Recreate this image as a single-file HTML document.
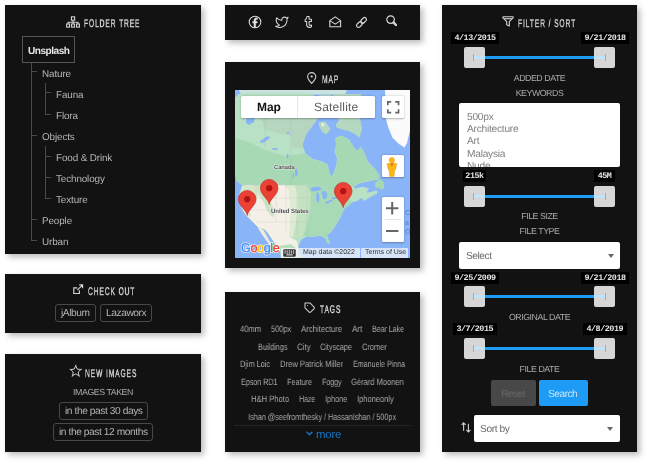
<!DOCTYPE html>
<html>
<head>
<meta charset="utf-8">
<style>
*{box-sizing:border-box;margin:0;padding:0}
html,body{width:649px;height:465px;overflow:hidden;background:#fff}
body{position:relative;text-rendering:geometricPrecision;font-family:"Liberation Sans",sans-serif;color:#bbb;font-size:11px}
.p{position:absolute;background:#121212;box-shadow:3px 3px 6px rgba(0,0,0,.27)}
.a{position:absolute;white-space:nowrap}
.f,.t,.btn>span,.tg,.lb,.tip,.g,.kw{will-change:transform}
.btn>span{display:inline-block}
.t{position:absolute;white-space:nowrap;color:#d6d6d6;-webkit-text-stroke:.4px #d6d6d6;font-size:11.1px;letter-spacing:1.5px;transform:scaleX(.6);transform-origin:0 50%;line-height:12px}
.f{position:absolute;white-space:nowrap;color:#b6b6b6;font-size:9.9px;line-height:12px;letter-spacing:-.12px}
.ln{position:absolute;background:#4a4a4a}
.btn{position:absolute;border:1px solid #484848;border-radius:3px;color:#b4b4b4;font-size:10.2px;line-height:12px;text-align:center;white-space:nowrap;letter-spacing:-.42px;padding-top:2.900px;height:18px}
.tg{position:absolute;white-space:nowrap;color:#a8a8a8;font-size:9.2px;line-height:10px;letter-spacing:-.1px;transform-origin:0 50%}
.lb{position:absolute;white-space:nowrap;color:#aaa;font-size:8.8px;line-height:10px;text-align:center;letter-spacing:-.45px}
.tip{position:absolute;background:#000;color:#e6e6e6;font-family:"Liberation Mono",monospace;font-weight:bold;font-size:8.4px;letter-spacing:-.45px;line-height:12px;height:12px;text-align:center;white-space:nowrap}
.hd{position:absolute;width:21px;height:21px;background:#d6d6d6;border-radius:2px}
.tr{position:absolute;height:3px;background:#1e9cf5}
.gl{position:absolute;height:3px;background:#bfe3fb}
.tk{position:absolute;width:1px;height:7px;background:#a9a9a9}
.sel{position:absolute;background:#fff;border-radius:2px}
.kw{position:absolute;white-space:nowrap;color:#808080;font-size:10.2px;line-height:12px;letter-spacing:-.25px}
svg{position:absolute;overflow:visible}
</style>
</head>
<body>

<!-- PANELS -->
<div class="p" style="left:5px;top:5px;width:196px;height:248.700px"></div>
<div class="p" style="left:5px;top:274px;width:196px;height:59px"></div>
<div class="p" style="left:5px;top:354px;width:196px;height:98px"></div>
<div class="p" style="left:225px;top:5px;width:195px;height:34.500px"></div>
<div class="p" style="left:225px;top:62px;width:195px;height:206px"></div>
<div class="p" style="left:225px;top:292px;width:195px;height:160px"></div>
<div class="p" style="left:442px;top:5px;width:195px;height:447px"></div>

<!-- FOLDER TREE -->
<svg style="left:66.200px;top:15.600px" width="15" height="13" viewBox="0 0 15 13" fill="none" stroke="#d4d4d4" stroke-width="1.100">
  <rect x="5.450" y=".850" width="3.200" height="3.300"/><path d="M7.050 4.150V6.300M2.100 8V6.300H12V8M7.050 6.300V8"/>
  <rect x=".650" y="8" width="2.900" height="3.100"/><rect x="5.600" y="8" width="2.900" height="3.100"/><rect x="10.550" y="8" width="2.900" height="3.100"/>
</svg>
<div class="t" style="left:83.5px;top:18px">FOLDER TREE</div>
<div class="a" style="left:22px;top:36px;width:53px;height:27px;border:1px solid #555"></div>
<div class="f" style="left:28.200px;top:46px;color:#e8e8e8;font-weight:bold;font-size:10.100px;letter-spacing:-.5px">Unsplash</div>
<div class="ln" style="left:31px;top:63px;width:1px;height:178px"></div>
<div class="ln" style="left:31px;top:71px;width:6px;height:1px"></div>
<div class="f" style="left:42px;top:68.7px">Nature</div>
<div class="ln" style="left:45px;top:83px;width:1px;height:31px"></div>
<div class="ln" style="left:45px;top:92px;width:6px;height:1px"></div>
<div class="f" style="left:56px;top:89.7px">Fauna</div>
<div class="ln" style="left:45px;top:114px;width:6px;height:1px"></div>
<div class="f" style="left:56px;top:110.7px">Flora</div>
<div class="ln" style="left:31px;top:135px;width:6px;height:1px"></div>
<div class="f" style="left:42px;top:131.7px">Objects</div>
<div class="ln" style="left:45px;top:146px;width:1px;height:52px"></div>
<div class="ln" style="left:45px;top:156px;width:6px;height:1px"></div>
<div class="f" style="left:56px;top:152.7px">Food &amp; Drink</div>
<div class="ln" style="left:45px;top:177px;width:6px;height:1px"></div>
<div class="f" style="left:56px;top:173.7px">Technology</div>
<div class="ln" style="left:45px;top:198px;width:6px;height:1px"></div>
<div class="f" style="left:56px;top:194.7px">Texture</div>
<div class="ln" style="left:31px;top:219px;width:6px;height:1px"></div>
<div class="f" style="left:42px;top:215.7px">People</div>
<div class="ln" style="left:31px;top:240px;width:6px;height:1px"></div>
<div class="f" style="left:42px;top:236.7px">Urban</div>

<!-- CHECK OUT -->
<svg style="left:73px;top:283.900px" width="11" height="11" viewBox="0 0 11 11" fill="none" stroke="#d4d4d4" stroke-width="1.150">
  <path d="M4.200 3.900H.8V9.500H6.400V6.300M6.200.8H9.600V4.200M9.600.8L4.300 6.100"/>
</svg>
<div class="t" style="left:87.5px;top:286px">CHECK OUT</div>
<div class="btn" style="left:55px;top:304px;width:41px"><span>jAlbum</span></div>
<div class="btn" style="left:100px;top:304px;width:52px"><span>Lazaworx</span></div>

<!-- NEW IMAGES -->
<svg style="left:69.700px;top:365.400px" width="12" height="12" viewBox="0 0 13 13" fill="none" stroke="#d4d4d4" stroke-width="1.050" stroke-linejoin="round">
  <path d="M6.2 0.8L7.9 4.5L11.8 4.9L8.9 7.6L9.7 11.6L6.2 9.6L2.7 11.6L3.5 7.6L0.6 4.9L4.5 4.5z"/><path d="M6.2 0.8L6.62 -0.11M6.2 0.8L5.78 -0.11M11.8 4.9L12.79 5.00M11.8 4.9L12.53 4.22M9.7 11.6L9.90 12.58M9.7 11.6L10.57 12.10M2.7 11.6L1.83 12.10M2.7 11.6L2.50 12.58M0.6 4.9L-0.13 4.22M0.6 4.9L-0.39 5.00" stroke-width=".8"/>
</svg>
<div class="t" style="left:85px;top:367.5px">NEW IMAGES</div>
<div class="lb" style="left:5px;width:196px;top:387px">IMAGES TAKEN</div>
<div class="btn" style="left:59px;top:402px;width:89px"><span>in the past 30 days</span></div>
<div class="btn" style="left:53px;top:423px;width:100px"><span>in the past 12 months</span></div>

<!--SOCIAL-->
<svg style="left:248px;top:15px" width="14" height="14" viewBox="0 0 14 14" fill="none" stroke="#d8d8d8" stroke-width="1.1">
  <circle cx="7" cy="7" r="5.8"/>
  <path fill="#e8e8e8" stroke="#e8e8e8" stroke-width=".35" d="M7.7 12.6V8.1h1.45l.25-1.7H7.7V5.3c0-.5.2-.85.9-.85h.85V2.95c-.2-.03-.7-.08-1.25-.08-1.35 0-2.25.8-2.25 2.25v1.3H4.6v1.7h1.35v4.5z"/>
</svg>
<svg style="left:274.500px;top:16.300px" width="13.700" height="12" viewBox="0 0 24 21" fill="none" stroke="#d8d8d8" stroke-width="1.8" stroke-linejoin="round">
  <path d="M23 2a10.9 10.9 0 0 1-3.14 1.53 4.48 4.48 0 0 0-7.86 3v1A10.66 10.66 0 0 1 3 3s-4 9 5 13a11.64 11.64 0 0 1-7 2c9 5 20 0 20-11.5a4.5 4.5 0 0 0-.08-.83A7.72 7.72 0 0 0 23 2z"/>
</svg>
<svg style="left:304.300px;top:16.200px" width="8.500" height="11.300" viewBox="0 0 9 12" fill="none" stroke="#d8d8d8" stroke-width="1.1" stroke-linejoin="round">
  <path d="M3.1.6h2.3v2.9h2.5v2.3H5.4v2.9c0 .9.45 1.25 1.15 1.25.5 0 .95-.15 1.4-.4v2.05c-.55.3-1.3.5-2.15.5C3.9 12.1 2.8 11 2.8 9.1V5.8H1.2V4c1.2-.4 1.8-1.5 1.9-3.4z"/>
</svg>
<svg style="left:329px;top:16px" width="13" height="12" viewBox="0 0 13 12" fill="none" stroke="#d8d8d8" stroke-width="1.1" stroke-linejoin="round">
  <path d="M.8 4.6L6.2.9l5.4 3.7v6.1H.8z"/><path d="M.8 4.6l5.4 3.5 5.4-3.5"/>
</svg>
<svg style="left:355.800px;top:16.800px" width="11" height="11" viewBox="0 0 12 12" fill="none" stroke="#d8d8d8" stroke-width="1.300">
  <g transform="rotate(-45 6 6)"><rect x="-.8" y="3.9" width="7.2" height="4.2" rx="2.1"/><rect x="5.6" y="3.9" width="7.2" height="4.2" rx="2.1"/></g>
</svg>
<svg style="left:386px;top:15.200px" width="12" height="12" viewBox="0 0 12 12" fill="none" stroke="#d8d8d8" stroke-width="1.2">
  <circle cx="4.6" cy="4.6" r="3.8"/><path d="M7.6 7.6L10 10" stroke-width="2.4" stroke-linecap="round"/>
</svg>
<!--MAP-->
<svg style="left:306.800px;top:72.300px" width="9.400" height="12" viewBox="0 0 9.400 12" fill="none" stroke="#d0d0d0" stroke-width="1.100">
  <path d="M4.700.6C2.400.6.6 2.400.6 4.600c0 2.800 4.100 6.700 4.100 6.700s4.100-3.900 4.100-6.700C8.800 2.400 7 .6 4.700.6z"/><circle cx="4.700" cy="4.500" r="1.100" fill="#e4e4e4" stroke="none"/>
</svg>
<div class="t" style="left:322px;top:74px">MAP</div>
<!--MAPBODY-->
<div class="a" style="left:234.500px;top:89.700px;width:175.500px;height:168.300px;background:#8ab4f8;overflow:hidden">
<svg style="left:0;top:0" width="175" height="168" viewBox="0 0 175 168">
  <path d="M4 0H112L110 4.500H6z" fill="#c9e2e0"/>
  <!-- main continent -->
  <path fill="#b9e1c5" stroke="#b9e1c5" stroke-width=".8" stroke-linejoin="round" d="M0 8L3 5L12 3H70L80 6L82 29L78.400 34L70.700 44.400L67.200 54.700L69.800 63.300L77.500 69.300L87 71.900L92.200 74.500L93.900 82.200L96.100 87.400L99 83.100L101.600 75.400L102.500 68.500L99.900 61.600L101.600 54.700L100.800 47.800L106.800 46.100L113.700 49.500L118 56.400L122.300 61.600L125.700 57.300L129.200 63.300L132.600 71.900L139.500 78.800L144.300 85.700L143.500 89L136 90.500L125.700 92.500L118 96.500L120 99L127 97L133.500 98.500L131 103L136 102.500L141.500 100.500L142 103L136 106.500L129 110.500L126.500 107.500L122.500 110.500L117 112L113.500 115.500L109.600 117.800L105.800 125.400L101 134.800L95.400 142.400L91.600 144.300L93 149L94.500 153.700L92 152L90.700 148L85 145.200L78 146.500L72 146L66 149.500L63 156L63.500 163L67 168H48L45.400 161.300L42.500 157.500L37.800 150L32 141.500L29 139L26 138L22.700 136.700L15.100 129.100L11.300 125.400L6.600 117.800L4.700 104.500L7.500 95L2 91L1 85.700L0 84z"/>
  <!-- Nunavut / NWT greyish -->
  <path fill="#b7d6c0" d="M26 28H82L78.400 34L70.700 44.400L67.200 54.700L68.500 59L58 58L56 46L30 40z"/>
  <!-- boreal forest darker -->
  <path fill="#a8d9b5" d="M0 48L14 52L30 60L50 66L69.800 63.300L77.500 69.300L87 71.900L92.200 74.500L93.900 82.200L96.100 87.400L99 83.100L101.600 75.400L110 73L122 72L132.600 71.900L139.500 78.800L144.300 85.700L143.500 89L136 90.500L125.700 92.500L118 96.500L108 100L96 100L84 96L70 94.500H7.500L2 91L1 85.700L0 84z"/>
  <path fill="#a6d8b3" d="M101.600 54.700L100.800 47.800L106.800 46.100L113.700 49.500L118 56.400L122.300 61.600L125.700 57.300L129.200 63.300L132.600 71.900L122 72L110 73L101.600 75.400L102.500 68.500L99.900 61.600z"/>
  <!-- US beige + mexico -->
  <path fill="#f4f0e7" d="M7.500 96L12 95H50L54 100L55 112L56 125L55 138L54 146.500L62 151L63 156L63.500 163L67 168H48L45.400 161.300L42.500 157.500L37.800 150L32 141.500L29 139L26 138L22.700 136.700L15.100 129.100L11.300 125.400L6.600 117.800L5 106z"/>
  <path fill="#efeadb" d="M23 137L26 138L28.400 140L33 148L36.300 154.700L35 155.500L30.200 149L26 143L23.500 139z"/>
  <path fill="#cde4c6" d="M19 95L27 95L31 104L36 112L40 122L38 128L33 122L29 113L24 106z"/>
  <path fill="#d6e8ce" d="M10.500 116L13 118L16.500 126L14.500 127L11.500 122z"/>
  <path fill="#dcebd2" d="M50 95L60 95.200L63 104L63 120L61 134L58 147L54 146.500L55 138L56 125L55 112L54 100z"/>
  <path fill="#c3e2c2" d="M60 95.200L72 95.500L76 104L75 120L72 134L68 146.500L62 148L58 147L61 134L63 120L63 104z"/>
  <path fill="#d5e8cd" d="M8 96L20 95L24 104L20 112L12 116L7 112L5 104z"/>
  <!-- east US green -->
  <path fill="#a9dab6" d="M72 95.500L84 96L96 100L108 100L117 112L113.500 115.500L109.600 117.800L105.800 125.400L101 134.800L95.400 142.400L91.600 144.300L93 149L94.500 153.700L92 152L90.700 148L85 145.200L78 146.500L72 146L68 146.500L72 134L75 120L76 104z"/>
  <!-- mexico south green -->
  <path fill="#b9dfbf" d="M44 156L56 154L63 160L63.500 163L67 168H46z"/>
  <!-- baffin + islands -->
  <path fill="#b5d9c0" d="M98 4H126L128 20L124.900 28.900L127.100 38.400L124.400 47.800L119.700 44L113.700 40.900L106.800 39.200L101.600 37.800L100.800 34.900L104 30L100 22z"/>
  <path fill="#b5d9c0" d="M83.600 32.300L90.400 31.500L95.600 39.200L91.300 44.400L87 41.800L84.400 36.600z"/>
  <path fill="#e6efe9" d="M86 33.500L88.500 33L89.500 36L87.500 37z"/>
  <path fill="#b5d9c0" d="M84 5H96L95 22L90 28L85 27z"/>
  <!-- newfoundland, PEI -->
  <path fill="#a6d8b3" d="M140 92.500L145.500 89L148.500 92L149.500 98L146 99.500L143.500 97.500L140.500 98z"/>
  <!-- greenland -->
  <path fill="#fbfbfb" d="M150 0L150.700 28L153.300 37.500L157.600 47.800L164 54L169.500 57.500L172 53L175 40V0z"/>
  <!-- lakes -->
  <g fill="#8ab4f8">
    <path d="M11 29L20 27L19 32L14 35L11 33z"/>
    <path d="M25 51L33 46L35.500 47.500L29 52.500L25.500 53z"/>
    <ellipse cx="40" cy="59" rx="3" ry="1.100"/><ellipse cx="52.500" cy="66" rx="1" ry="2.500"/><ellipse cx="53" cy="43" rx="1.200" ry="1.200"/>
    <ellipse cx="61.300" cy="82.500" rx="1.400" ry="4"/><ellipse cx="58.300" cy="85.500" rx=".8" ry="2.300"/>
    <path d="M75.500 98.500L80 96.500L85 97L87 99.500L82 101L77 101.500z"/>
    <ellipse cx="82.800" cy="107.500" rx="1.600" ry="5"/>
    <path d="M86.500 102L90 100.500L92.500 104L91.500 108.500L88.500 109.500z"/>
    <path d="M90 112.500L96 109.500L97.500 111L91.500 114z"/><path d="M96.500 107.500L102 106.500L102 108.500L97.500 109.500z"/>
  </g>
  <!-- borders -->
  <path d="M7.500 95H70M30 28V58M56 28V94.500" stroke="#7e8c83" stroke-width=".4" fill="none" opacity=".55" stroke-dasharray="1 .6"/>
  <g stroke="#b5b0a2" stroke-width=".4" fill="none" opacity=".75" stroke-dasharray="1.200 .6">
    <path d="M21 95V110M31 95V120M41 95V132M51 95V143M62 100V146M72 96V146M12 108H76M14 120H75M22 132H72"/>
  </g>
</svg>
</div>
<!--MAPUI-->
<div class="g a" style="left:270.500px;top:208.200px;font-size:6.100px;line-height:8px;font-weight:bold;color:#4e4e4e;text-shadow:0 0 1px #fff,0 0 1px #fff,0 0 2px #fff;letter-spacing:-.1px">United States</div>
<div class="g a" style="left:273.500px;top:164px;font-size:5.900px;line-height:8px;font-weight:bold;color:#4e4e4e;text-shadow:0 0 1px #fff,0 0 1px #fff,0 0 2px #fff;letter-spacing:-.1px">Canada</div>
<svg style="left:238.1px;top:189.8px" width="18.400" height="25.700" viewBox="0 0 18.400 25.700"><path d="M9.200 25.500C8.600 20 .4 15.800.4 9.200A8.800 8.800 0 0 1 18 9.200C18 15.800 9.800 20 9.200 25.500z" fill="#ea4335" stroke="#c5221f" stroke-width=".6"/><circle cx="9.200" cy="9.200" r="3.100" fill="#b31412"/></svg>
<svg style="left:259.8px;top:178.5px" width="18.400" height="25.700" viewBox="0 0 18.400 25.700"><path d="M9.200 25.500C8.600 20 .4 15.800.4 9.200A8.800 8.800 0 0 1 18 9.200C18 15.800 9.800 20 9.200 25.500z" fill="#ea4335" stroke="#c5221f" stroke-width=".6"/><circle cx="9.200" cy="9.200" r="3.100" fill="#b31412"/></svg>
<svg style="left:334.4px;top:181.8px" width="18.400" height="25.700" viewBox="0 0 18.400 25.700"><path d="M9.200 25.500C8.600 20 .4 15.800.4 9.200A8.800 8.800 0 0 1 18 9.200C18 15.800 9.800 20 9.200 25.500z" fill="#ea4335" stroke="#c5221f" stroke-width=".6"/><circle cx="9.200" cy="9.200" r="3.100" fill="#b31412"/></svg>

<!-- map type control -->
<div class="a" style="left:240.500px;top:95.500px;width:134px;height:22.200px;background:#fff;border-radius:1.500px;box-shadow:0 .5px 2px rgba(0,0,0,.3)"></div>
<div class="a" style="left:297px;top:95.500px;width:1px;height:22.200px;background:#e6e6e6"></div>
<div class="g a" style="left:257px;top:99.500px;font-size:12px;line-height:14px;font-weight:bold;color:#111;letter-spacing:-.1px">Map</div>
<div class="g a" style="left:313.800px;top:99.500px;font-size:12px;line-height:14px;color:#5a5a5a;letter-spacing:.2px">Satellite</div>
<!-- fullscreen -->
<div class="a" style="left:381.500px;top:95.500px;width:22.500px;height:22.200px;background:#fff;border-radius:1.500px;box-shadow:0 .5px 2px rgba(0,0,0,.3)"></div>
<svg style="left:387px;top:100.500px" width="12.400" height="12.400" viewBox="0 0 12.400 12.400" fill="none" stroke="#666" stroke-width="1.700"><path d="M.85 4.200V.85H4.200M8.200.85H11.550V4.200M11.550 8.200V11.550H8.200M4.200 11.550H.85V8.200"/></svg>
<!-- pegman -->
<div class="a" style="left:381.800px;top:154.800px;width:22px;height:22.500px;background:#fff;border-radius:1.500px;box-shadow:0 .5px 2px rgba(0,0,0,.3)"></div>
<svg style="left:386px;top:156.500px" width="12" height="20" viewBox="0 0 12 20">
  <circle cx="5.900" cy="3.200" r="2.700" fill="#fbb616" stroke="#e09612" stroke-width=".4"/>
  <path d="M1.100 7.300Q.7 6.300 2 6.300H9.800Q11.100 6.300 10.700 7.300L9.500 12.800H8.700L8.100 19.500H3.700L3.100 12.800H2.300z" fill="#fbb616" stroke="#e09612" stroke-width=".4"/>
  <path d="M3.900 6.400L5.900 9.600L7.900 6.400z" fill="#e8710a"/>
</svg>
<!-- zoom -->
<div class="a" style="left:381.800px;top:197px;width:22px;height:45px;background:#fff;border-radius:1.500px;box-shadow:0 .5px 2px rgba(0,0,0,.3)"></div>
<div class="a" style="left:384.500px;top:219px;width:16.500px;height:1px;background:#e6e6e6"></div>
<svg style="left:386.400px;top:201.500px" width="12.400" height="12.400" viewBox="0 0 12.400 12.400" stroke="#666" stroke-width="2"><path d="M6.200 0V12.400M0 6.200H12.400"/></svg>
<svg style="left:386.400px;top:230px" width="12.400" height="2" viewBox="0 0 12.400 2"><rect width="12.400" height="2" fill="#666"/></svg>
<!-- right-edge clipped labels -->
<div class="g a" style="left:404.500px;top:209px;width:5.500px;overflow:hidden;font-size:7px;line-height:9.500px;color:#4a7fd6;white-space:normal">C<br>a<br>O</div>
<!-- google logo -->
<div class="g a" style="left:241px;top:241.200px;font-size:12.600px;line-height:15px;letter-spacing:-.4px;color:#fff;-webkit-text-stroke:1.600px #fff">Google</div>
<div class="g a" style="left:241px;top:241.200px;font-size:12.600px;line-height:15px;letter-spacing:-.4px;-webkit-text-stroke:.35px currentColor"><span style="color:#4285f4">G</span><span style="color:#ea4335">o</span><span style="color:#fbbc05">o</span><span style="color:#4285f4">g</span><span style="color:#34a853">l</span><span style="color:#ea4335">e</span></div>
<!-- bottom bar -->
<div class="a" style="left:280.500px;top:247.500px;width:17px;height:10.500px;background:rgba(245,245,245,.85)"></div>
<svg style="left:282.500px;top:249px" width="13" height="8" viewBox="0 0 13 8"><rect x=".3" y=".3" width="12.400" height="7.400" rx="1" fill="#333"/><g fill="#f5f5f5"><rect x="1.500" y="1.500" width="1.300" height="1.100"/><rect x="3.600" y="1.500" width="1.300" height="1.100"/><rect x="5.700" y="1.500" width="1.300" height="1.100"/><rect x="7.800" y="1.500" width="1.300" height="1.100"/><rect x="9.900" y="1.500" width="1.300" height="1.100"/><rect x="1.500" y="3.400" width="1.300" height="1.100"/><rect x="3.600" y="3.400" width="1.300" height="1.100"/><rect x="5.700" y="3.400" width="1.300" height="1.100"/><rect x="7.800" y="3.400" width="1.300" height="1.100"/><rect x="9.900" y="3.400" width="1.300" height="1.100"/><rect x="3.300" y="5.400" width="6.400" height="1"/></g></svg>
<div class="a" style="left:297.500px;top:248px;width:62.500px;height:10px;background:rgba(245,245,245,.72)"></div>
<div class="a" style="left:361px;top:248px;width:46.500px;height:10px;background:rgba(245,245,245,.72)"></div>
<div class="g a" style="left:303px;top:249px;font-size:7px;line-height:8px;color:#333">Map data &copy;2022</div>
<div class="g a" style="left:364.800px;top:249px;font-size:7px;line-height:8px;color:#333">Terms of Use</div>
<!--TAGS-->
<svg style="left:304.400px;top:302.400px" width="11.300" height="11.300" viewBox="0 0 23 23" fill="none" stroke="#cfcfcf" stroke-width="2.1" stroke-linejoin="round" stroke-linecap="round">
  <path d="M20.590 13.410l-7.170 7.170a2 2 0 0 1-2.830 0L2 12V2h10l8.590 8.590a2 2 0 0 1 0 2.820z"/><path d="M7 7h.01"/>
</svg>
<div class="t" style="left:320px;top:304px">TAGS</div>
<div class="tg" style="left:240.4px;top:324.4px;transform:scaleX(0.837)">40mm</div>
<div class="tg" style="left:271.2px;top:324.4px;transform:scaleX(0.820)">500px</div>
<div class="tg" style="left:300.8px;top:324.4px;transform:scaleX(0.864)">Architecture</div>
<div class="tg" style="left:351.7px;top:324.4px;transform:scaleX(0.886)">Art</div>
<div class="tg" style="left:371.7px;top:324.4px;transform:scaleX(0.780)">Bear Lake</div>
<div class="tg" style="left:257.7px;top:342px;transform:scaleX(0.810)">Buildings</div>
<div class="tg" style="left:296.8px;top:342px;transform:scaleX(0.883)">City</div>
<div class="tg" style="left:319.9px;top:342px;transform:scaleX(0.807)">Cityscape</div>
<div class="tg" style="left:361.5px;top:342px;transform:scaleX(0.823)">Cromer</div>
<div class="tg" style="left:239.8px;top:359.3px;transform:scaleX(0.810)">Djim Loic</div>
<div class="tg" style="left:279.5px;top:359.3px;transform:scaleX(0.846)">Drew Patrick Miller</div>
<div class="tg" style="left:352.6px;top:359.3px;transform:scaleX(0.789)">Emanuele Pinna</div>
<div class="tg" style="left:241px;top:376.7px;transform:scaleX(0.790)">Epson RD1</div>
<div class="tg" style="left:287.2px;top:376.7px;transform:scaleX(0.806)">Feature</div>
<div class="tg" style="left:322px;top:376.7px;transform:scaleX(0.780)">Foggy</div>
<div class="tg" style="left:351px;top:376.7px;transform:scaleX(0.835)">G&eacute;rard Moonen</div>
<div class="tg" style="left:250.9px;top:394px;transform:scaleX(0.847)">H&amp;H Photo</div>
<div class="tg" style="left:299px;top:394px;transform:scaleX(0.773)">Haze</div>
<div class="tg" style="left:324.8px;top:394px;transform:scaleX(0.807)">Iphone</div>
<div class="tg" style="left:356.9px;top:394px;transform:scaleX(0.834)">Iphoneonly</div>
<div class="tg" style="left:248.4px;top:411.5px;transform:scaleX(0.805)">Ishan @seefromthesky / HassanIshan / 500px</div>
<div class="a" style="left:234px;top:424.5px;width:177px;height:1px;background:#232323"></div>
<svg style="left:306px;top:431px" width="7" height="5" viewBox="0 0 7 5" fill="none" stroke="#1878c8" stroke-width="1.5"><path d="M.6.8L3.500 3.700L6.400.8"/></svg>
<div class="g a" style="left:316px;top:427.800px;color:#1878c8;font-size:11.4px;line-height:14px;letter-spacing:-.2px">more</div>
<!--FILTER-->
<svg style="left:502px;top:16px" width="12" height="11" viewBox="0 0 12 11" fill="none" stroke="#d4d4d4" stroke-width="1.100" stroke-linejoin="round">
  <path d="M1.400.700H10.600Q11.700.900 11 1.900L7.300 5.600V10L4.700 8.700V5.600L1 1.900Q.3.900 1.400.700z"/><path d="M2.200 2.700H9.800"/>
</svg>
<div class="t" style="left:517.5px;top:18px">FILTER / SORT</div>
<div class="tip" style="left:450.5px;top:32px;width:48px">4/13/2015</div>
<div class="tip" style="left:580.5px;top:32px;width:48px">9/21/2018</div>
<div class="tr" style="left:485px;top:56px;width:109px"></div>
<div class="hd" style="left:464px;top:47px"></div><div class="hd" style="left:594px;top:47px"></div>
<div class="gl" style="left:474px;top:56px;width:11px"></div><div class="gl" style="left:594px;top:56px;width:11px"></div>
<div class="tk" style="left:473px;top:54px"></div><div class="tk" style="left:605px;top:54px"></div>
<div class="lb" style="left:442px;width:195px;top:72.500px">ADDED DATE</div>
<div class="lb" style="left:442px;width:195px;top:87.500px">KEYWORDS</div>
<div class="sel" style="left:459px;top:103px;width:161px;height:63.500px;overflow:hidden"></div>
<div class="kw" style="left:467px;top:111.500px">500px</div>
<div class="kw" style="left:467px;top:123.800px">Architecture</div>
<div class="kw" style="left:467px;top:136.200px">Art</div>
<div class="kw" style="left:467px;top:148.600px">Malaysia</div>
<div class="a" style="left:459px;top:158px;width:161px;height:8.500px;overflow:hidden"><div class="kw" style="left:8px;top:3px">Nude</div></div>
<div class="tip" style="left:463px;top:169.5px;width:23px">215k</div>
<div class="tip" style="left:594px;top:169.5px;width:21px">45M</div>
<div class="tr" style="left:485px;top:194.5px;width:109px"></div>
<div class="hd" style="left:464px;top:185.5px"></div><div class="hd" style="left:594px;top:185.5px"></div>
<div class="gl" style="left:474px;top:194.5px;width:11px"></div><div class="gl" style="left:594px;top:194.5px;width:11px"></div>
<div class="tk" style="left:473px;top:192.5px"></div><div class="tk" style="left:605px;top:192.5px"></div>
<div class="lb" style="left:442px;width:195px;top:210.500px">FILE SIZE</div>
<div class="lb" style="left:442px;width:195px;top:226px">FILE TYPE</div>
<div class="sel" style="left:459px;top:242px;width:161px;height:27px"></div>
<div class="kw" style="left:465.500px;top:250.500px;color:#6a6a6a;letter-spacing:-.45px">Select</div>
<svg style="left:608px;top:253.500px" width="6" height="4" viewBox="0 0 6 4"><path d="M0 0H6L3 4z" fill="#666"/></svg>
<div class="tip" style="left:450.5px;top:271.5px;width:48px">9/25/2009</div>
<div class="tip" style="left:580.5px;top:271.5px;width:48px">9/21/2018</div>
<div class="tr" style="left:485px;top:295px;width:109px"></div>
<div class="hd" style="left:464px;top:286px"></div><div class="hd" style="left:594px;top:286px"></div>
<div class="gl" style="left:474px;top:295px;width:11px"></div><div class="gl" style="left:594px;top:295px;width:11px"></div>
<div class="tk" style="left:473px;top:293px"></div><div class="tk" style="left:605px;top:293px"></div>
<div class="lb" style="left:442px;width:195px;top:311.500px">ORIGINAL DATE</div>
<div class="tip" style="left:452.75px;top:322.5px;width:43.5px">3/7/2015</div>
<div class="tip" style="left:582.75px;top:322.5px;width:43.5px">4/8/2019</div>
<div class="tr" style="left:485px;top:347px;width:109px"></div>
<div class="hd" style="left:464px;top:338px"></div><div class="hd" style="left:594px;top:338px"></div>
<div class="gl" style="left:474px;top:347px;width:11px"></div><div class="gl" style="left:594px;top:347px;width:11px"></div>
<div class="tk" style="left:473px;top:345px"></div><div class="tk" style="left:605px;top:345px"></div>
<div class="lb" style="left:442px;width:195px;top:364px">FILE DATE</div>
<div class="a" style="left:491px;top:380px;width:45px;height:26px;background:#484848;border-radius:2px"></div>
<div class="kw" style="left:501px;top:388.500px;color:#6a6a6a;letter-spacing:-.5px">Reset</div>
<div class="a" style="left:538.500px;top:380px;width:49.500px;height:26px;background:#1e9cf5;border-radius:2px"></div>
<div class="kw" style="left:548px;top:388.500px;color:#c8e5fb;letter-spacing:-.5px">Search</div>
<svg style="left:461px;top:421.500px" width="10" height="11" viewBox="0 0 10 11" fill="none" stroke="#cfcfcf" stroke-width="1.1">
  <path d="M2.600 8.800V.9M.6 2.900L2.600.9L4.600 2.900M7.400 1.700V9.900M5.400 7.900L7.400 9.900L9.400 7.900"/>
</svg>
<div class="sel" style="left:474px;top:415px;width:145.500px;height:26.500px"></div>
<div class="kw" style="left:480px;top:424.200px;color:#6a6a6a;letter-spacing:-.4px">Sort by</div>
<svg style="left:607px;top:426.500px" width="6" height="4" viewBox="0 0 6 4"><path d="M0 0H6L3 4z" fill="#666"/></svg>

</body>
</html>
